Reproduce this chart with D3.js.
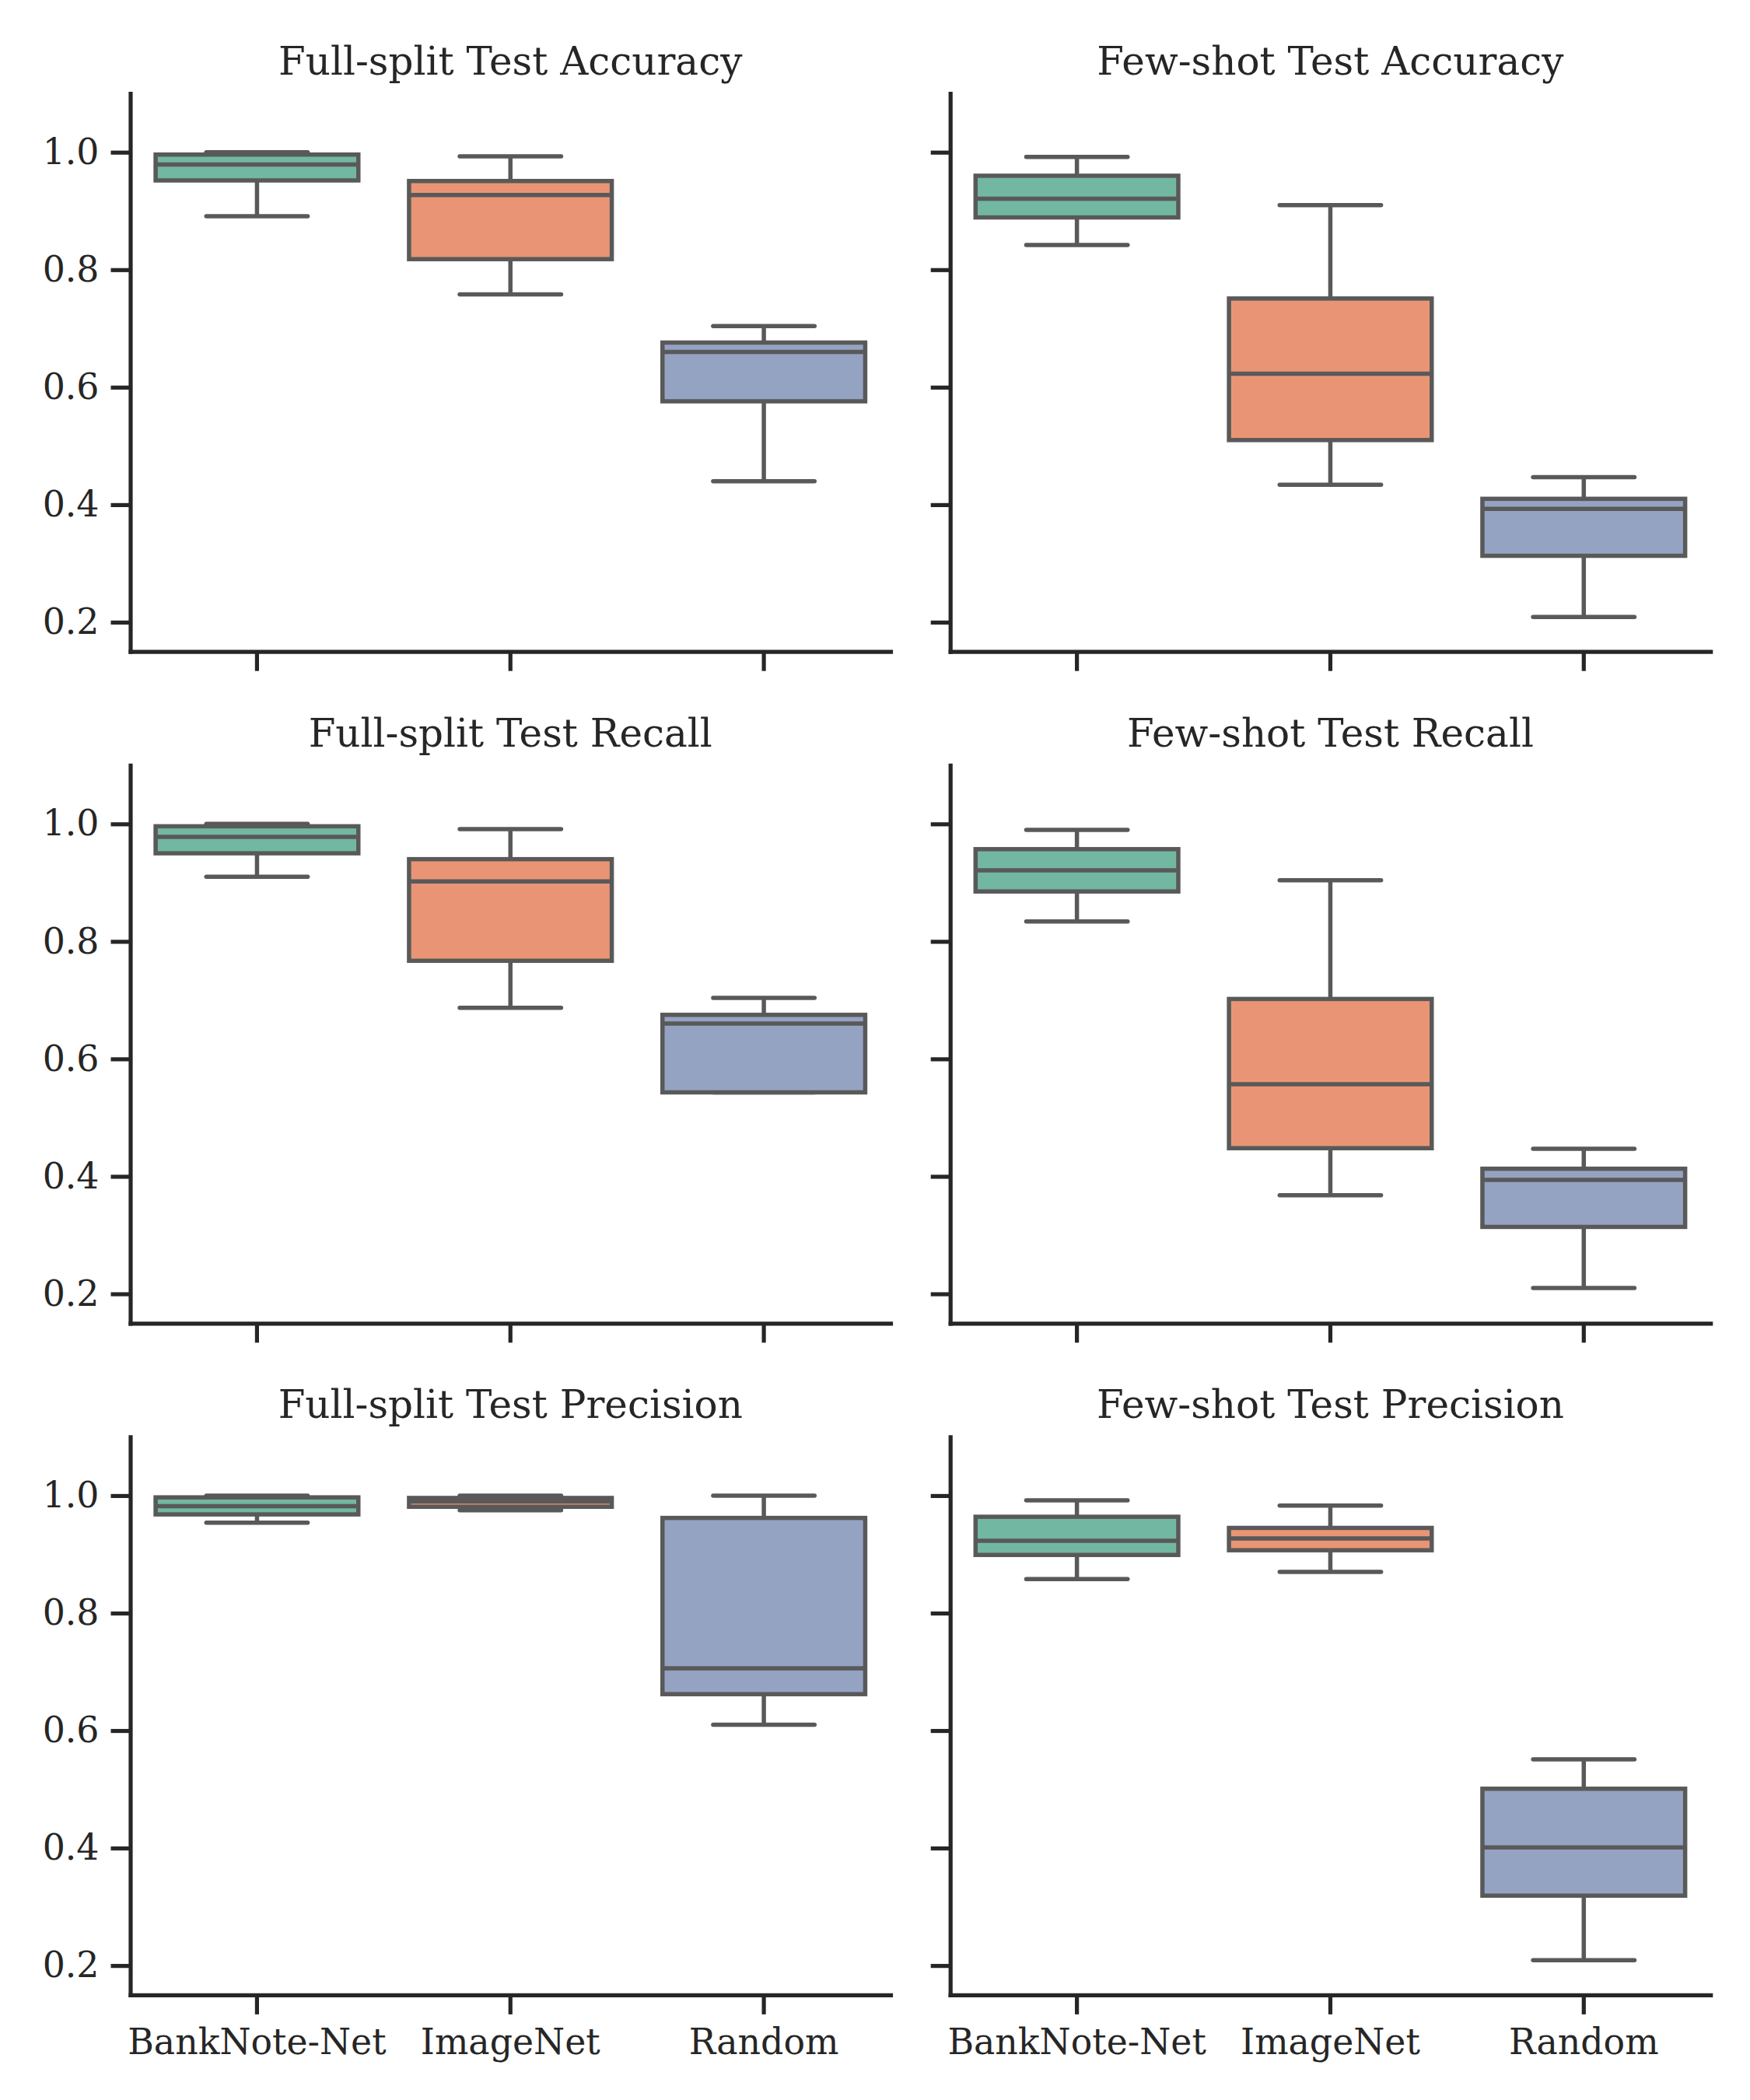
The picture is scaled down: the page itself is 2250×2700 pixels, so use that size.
<!DOCTYPE html>
<html>
<head>
<meta charset="utf-8">
<script src="https://cdn.jsdelivr.net/npm/d3@7"></script>
<style>
  body { margin: 0; background: #fff; }
  text { font-family: "DejaVu Serif", serif; fill: #262626; }
</style>
</head>
<body>
<div id="wrapper"></div>
<script>
// data: five-number summaries per model [whisker low, q1, median, q3, whisker high]
const models = ["BankNote-Net", "ImageNet", "Random"]
const yTicks = [0.2, 0.4, 0.6, 0.8, 1.0]
const yDomain = [0.15, 1.1]

const fullAccuracy = [
  [0.891, 0.952, 0.979, 0.996, 1.000],
  [0.758, 0.818, 0.927, 0.951, 0.993],
  [0.440, 0.576, 0.660, 0.676, 0.704],
]
const fewAccuracy = [
  [0.842, 0.889, 0.921, 0.960, 0.992],
  [0.434, 0.510, 0.623, 0.751, 0.910],
  [0.209, 0.313, 0.393, 0.410, 0.447],
]
const fullRecall = [
  [0.910, 0.950, 0.978, 0.996, 1.000],
  [0.687, 0.767, 0.902, 0.940, 0.991],
  [0.543, 0.543, 0.660, 0.675, 0.704],
]
const fewRecall = [
  [0.834, 0.885, 0.921, 0.957, 0.990],
  [0.368, 0.448, 0.557, 0.702, 0.904],
  [0.210, 0.314, 0.394, 0.413, 0.447],
]
const fullPrecision = [
  [0.954, 0.968, 0.982, 0.997, 1.000],
  [0.975, 0.981, 0.990, 0.996, 1.000],
  [0.610, 0.662, 0.706, 0.962, 1.000],
]
const fewPrecision = [
  [0.858, 0.899, 0.923, 0.964, 0.992],
  [0.870, 0.907, 0.927, 0.945, 0.983],
  [0.209, 0.319, 0.401, 0.501, 0.551],
]

const titles = [
  "Full-split Test Accuracy", "Few-shot Test Accuracy",
  "Full-split Test Recall", "Few-shot Test Recall",
  "Full-split Test Precision", "Few-shot Test Precision",
]
const panelData = [fullAccuracy, fewAccuracy, fullRecall, fewRecall, fullPrecision, fewPrecision]

const colors = ["#72b7a1", "#e99575", "#95a3c3"]
const lineColor = "#595959"
const spineColor = "#262626"

// layout
const dimensions = {
  width: 2250,
  height: 2700,
  colX: [167.5, 1221.7],
  rowY: [120.2, 983.8, 1847.4],
  plotWidth: 977.5,
  plotHeight: 717.5,
}

const svg = d3.select("#wrapper")
  .append("svg")
    .attr("width", dimensions.width)
    .attr("height", dimensions.height)
    .style("background", "#fff")

const x = d3.scaleBand()
  .domain(models)
  .range([0, dimensions.plotWidth])
  .padding(0)

const y = d3.scaleLinear()
  .domain(yDomain)
  .range([dimensions.plotHeight, 0])

const bw = x.bandwidth()
const boxW = bw * 0.8
const capW = bw * 0.4

panelData.forEach((stats, p) => {
  const row = Math.floor(p / 2)
  const col = p % 2
  const g = svg.append("g")
    .attr("transform", `translate(${dimensions.colX[col]}, ${dimensions.rowY[row]})`)

  // boxes
  stats.forEach((s, i) => {
    const [lo, q1, med, q3, hi] = s
    const cx = x(models[i]) + bw / 2
    const bg = g.append("g")
      .attr("stroke", lineColor)
      .attr("stroke-width", 5.5)

    bg.append("line")
      .attr("x1", cx).attr("x2", cx)
      .attr("y1", y(q3)).attr("y2", y(hi))
    bg.append("line")
      .attr("x1", cx).attr("x2", cx)
      .attr("y1", y(q1)).attr("y2", y(lo))

    bg.selectAll(".cap")
      .data([hi, lo])
      .join("line")
        .attr("class", "cap")
        .attr("x1", cx - capW / 2).attr("x2", cx + capW / 2)
        .attr("y1", d => y(d)).attr("y2", d => y(d))
        .attr("stroke-linecap", "round")

    bg.append("rect")
      .attr("x", cx - boxW / 2)
      .attr("width", boxW)
      .attr("y", y(q3))
      .attr("height", y(q1) - y(q3))
      .attr("fill", colors[i])

    bg.append("line")
      .attr("x1", cx - boxW / 2).attr("x2", cx + boxW / 2)
      .attr("y1", y(med)).attr("y2", y(med))
  })

  // axes
  const yAxis = d3.axisLeft(y)
    .tickValues(yTicks)
    .tickSize(25)
    .tickSizeOuter(0)
    .tickPadding(15)
    .tickFormat(col === 0 ? d3.format(".1f") : "")

  const xAxis = d3.axisBottom(x)
    .tickSize(25)
    .tickSizeOuter(0)
    .tickPadding(19)
    .tickFormat(row === 2 ? d => d : "")

  const ya = g.append("g").call(yAxis)
  const xa = g.append("g")
    .attr("transform", `translate(0, ${dimensions.plotHeight})`)
    .call(xAxis)

  ;[ya, xa].forEach(a => {
    a.select(".domain")
      .attr("stroke", spineColor)
      .attr("stroke-width", 5.2)
      .attr("stroke-linecap", "square")
    a.selectAll(".tick line")
      .attr("stroke", spineColor)
      .attr("stroke-width", 5.2)
    a.selectAll(".tick text")
      .style("font-family", "'DejaVu Serif', serif")
      .style("font-size", "45.8px")
      .attr("fill", spineColor)
  })

  g.append("text")
    .attr("x", dimensions.plotWidth / 2)
    .attr("y", -24)
    .attr("text-anchor", "middle")
    .style("font-size", "50px")
    .text(titles[p])
})
</script>
</body>
</html>
